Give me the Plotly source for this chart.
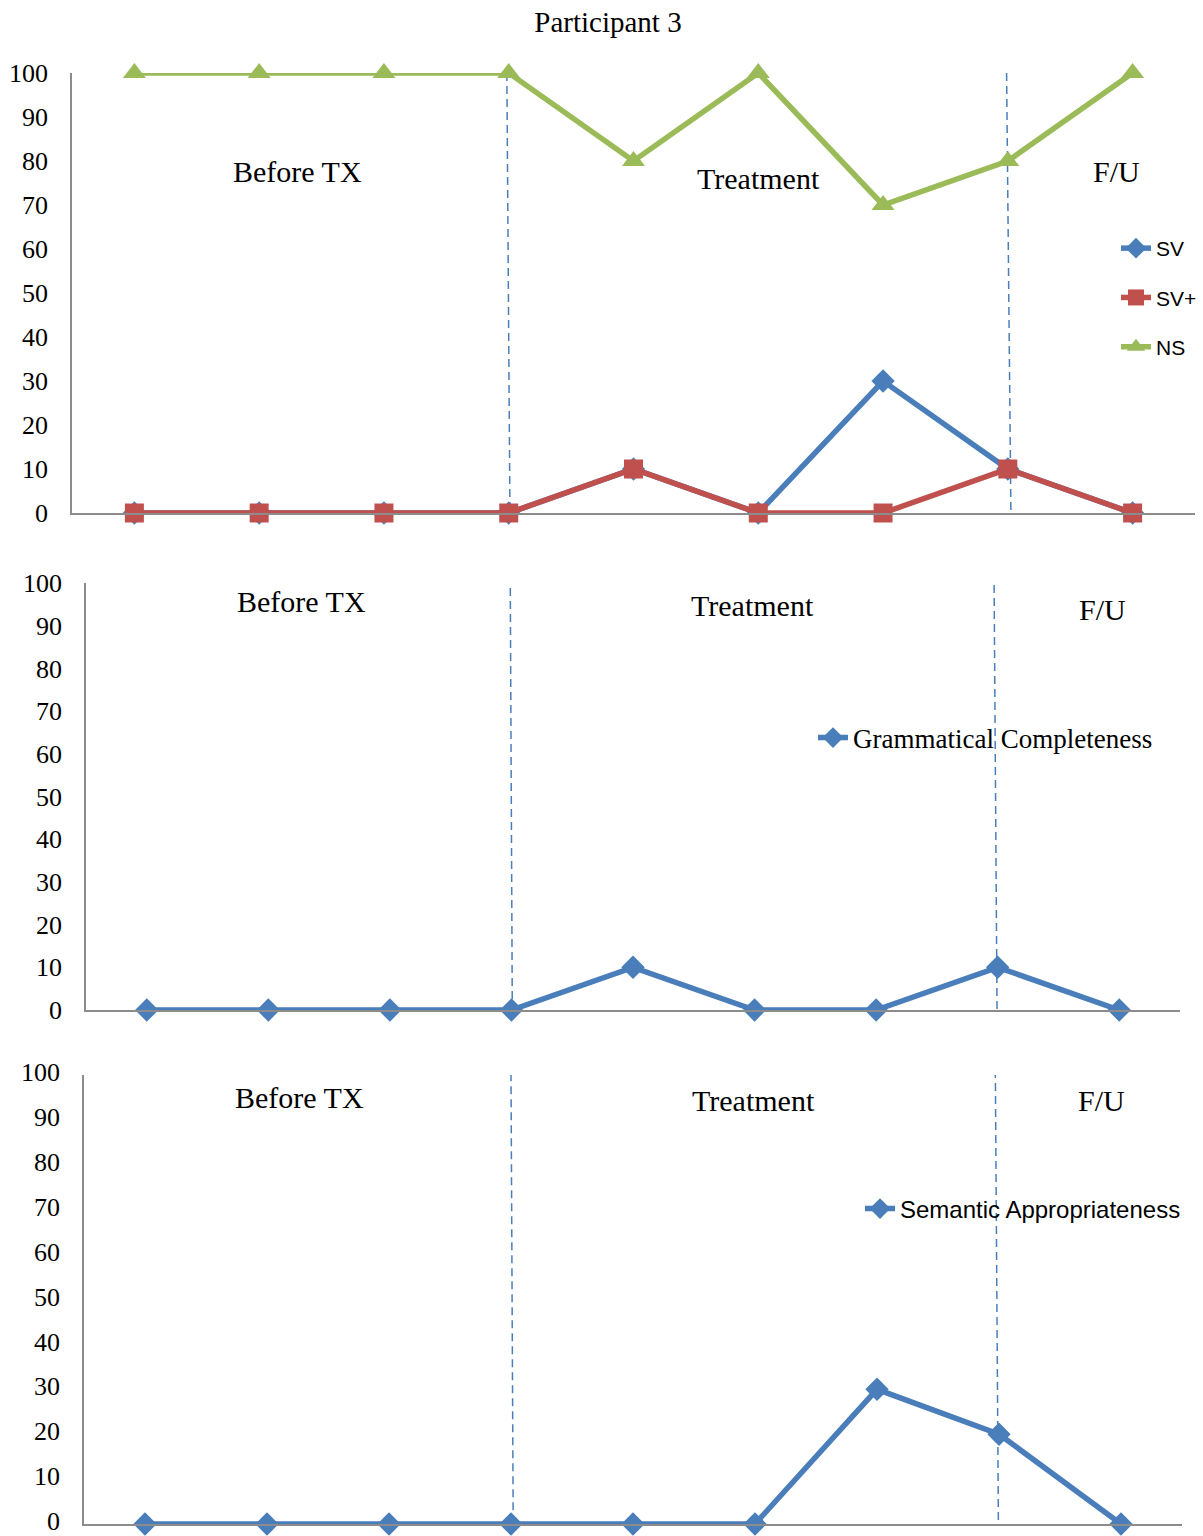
import plotly.graph_objects as go

# Probe sessions (9 measurement points)
sessions = ["1", "2", "3", "4", "5", "6", "7", "8", "9"]

# Panel 1: response types (%)
sv = [0, 0, 0, 0, 10, 0, 30, 10, 0]
sv_plus = [0, 0, 0, 0, 10, 0, 0, 10, 0]
ns = [100, 100, 100, 100, 80, 100, 70, 80, 100]

# Panel 2 and 3 (%)
grammatical = [0, 0, 0, 0, 10, 0, 0, 10, 0]
semantic = [0, 0, 0, 0, 0, 0, 30, 20, 0]

y_ticks = [0, 10, 20, 30, 40, 50, 60, 70, 80, 90, 100]
phase_labels = ["Before TX", "Treatment", "F/U"]

BLUE = "#4A7EBB"
RED = "#C0504D"
GREEN = "#9BBB59"
AXIS_GREY = "#8C8C8C"

W, H = 1203, 1536


def xdom(left, right):
    return [left / W, right / W]


def ydom(top, bottom):
    return [1 - bottom / H, 1 - top / H]


fig = go.Figure()

idx = list(range(len(sessions)))
LW = 5.5

# ---- panel 1
fig.add_trace(go.Scatter(x=idx, y=sv, name="SV", mode="lines+markers",
                         line=dict(color=BLUE, width=LW),
                         marker=dict(symbol="diamond", size=18, color=BLUE),
                         xaxis="x", yaxis="y", legend="legend", legendgroup="a",
                         cliponaxis=False))
fig.add_trace(go.Scatter(x=idx, y=sv_plus, name="SV+", mode="lines+markers",
                         line=dict(color=RED, width=LW),
                         marker=dict(symbol="square", size=19, color=RED),
                         xaxis="x", yaxis="y", legend="legend", legendgroup="b",
                         cliponaxis=False))
fig.add_trace(go.Scatter(x=idx, y=ns, name="NS", mode="lines+markers",
                         line=dict(color=GREEN, width=LW),
                         marker=dict(symbol="triangle-up", size=20, color=GREEN),
                         xaxis="x", yaxis="y", legend="legend", legendgroup="c",
                         cliponaxis=False))

# ---- panel 2
fig.add_trace(go.Scatter(x=idx, y=grammatical, name="Grammatical Completeness",
                         mode="lines+markers",
                         line=dict(color=BLUE, width=LW),
                         marker=dict(symbol="diamond", size=18, color=BLUE),
                         xaxis="x2", yaxis="y2", legend="legend2",
                         cliponaxis=False))

# ---- panel 3
fig.add_trace(go.Scatter(x=idx, y=semantic, name="Semantic Appropriateness",
                         mode="lines+markers",
                         line=dict(color=BLUE, width=LW),
                         marker=dict(symbol="diamond", size=18, color=BLUE),
                         xaxis="x3", yaxis="y3", legend="legend3",
                         cliponaxis=False))

tick_font = dict(family="Liberation Serif, Times New Roman, serif", size=26, color="#000")


def x_axis(dom, anchor):
    return dict(domain=dom, anchor=anchor, range=[-0.5, 8.5], showticklabels=False,
                showgrid=False, zeroline=False, showline=True, linecolor=AXIS_GREY,
                linewidth=1.5, ticks="", fixedrange=True, automargin=False)


def y_axis(dom, anchor, shift=0):
    return dict(domain=dom, anchor=anchor, range=[0, 100], tickvals=y_ticks,
                showgrid=False, zeroline=False, showline=True, linecolor=AXIS_GREY,
                linewidth=1.5, ticks="", ticklabelstandoff=17, tickfont=tick_font,
                ticklabelshift=shift, ticklabeloverflow="allow", fixedrange=True,
                automargin=False)


fig.update_layout(
    width=W, height=H,
    margin=dict(l=0, r=0, t=0, b=0, autoexpand=False),
    paper_bgcolor="white", plot_bgcolor="white",
    title=dict(text="Participant 3", x=608 / W, y=1 - 22 / H,
               xanchor="center", yanchor="middle", automargin=False,
               font=dict(family="Liberation Serif, Times New Roman, serif", size=29,
                         color="#000")),
    xaxis=x_axis(xdom(72, 1195), "y"),
    yaxis=y_axis(ydom(73, 513), "x"),
    xaxis2=x_axis(xdom(86, 1180), "y2"),
    yaxis2=y_axis(ydom(583, 1010), "x2"),
    xaxis3=x_axis(xdom(84, 1182), "y3"),
    yaxis3=y_axis(ydom(1075, 1524), "x3", shift=-3),
    legend=dict(x=1116 / W, y=1 - 228 / H, xanchor="left", yanchor="top",
                bgcolor="rgba(0,0,0,0)", tracegroupgap=19,
                font=dict(family="Liberation Sans, Arial, sans-serif", size=21,
                          color="#000")),
    legend2=dict(x=813 / W, y=1 - 738 / H, xanchor="left", yanchor="middle",
                 bgcolor="rgba(0,0,0,0)",
                 font=dict(family="Liberation Serif, Times New Roman, serif", size=27,
                           color="#000")),
    legend3=dict(x=860 / W, y=1 - 1209 / H, xanchor="left", yanchor="middle",
                 bgcolor="rgba(0,0,0,0)",
                 font=dict(family="Liberation Sans, Arial, sans-serif", size=24,
                           color="#000")),
    showlegend=True,
)

# Phase boundaries (dashed, hand-drawn look)
dash_style = dict(color=BLUE, width=1.5, dash="8px,5px")
boundaries = [
    ("x", "y", 2.985, 100, 3.01, -0.9),
    ("x", "y", 6.99, 100, 7.025, -0.9),
    ("x2", "y2", 2.99, 101.9, 3.007, 0),
    ("x2", "y2", 6.97, 102.6, 6.995, -0.5),
    ("x3", "y3", 3.0, 100.4, 3.018, 0),
    ("x3", "y3", 6.97, 101.1, 6.995, 0),
]
for xr, yr, x0, y0, x1, y1 in boundaries:
    fig.add_shape(type="line", xref=xr, yref=yr, x0=x0, y0=y0, x1=x1, y1=y1,
                  line=dash_style, layer="below")

# Phase labels
ann_font = dict(family="Liberation Serif, Times New Roman, serif", size=30, color="#000")
phase_pos = [
    ("x", "y", [(1.31, 77.5), (5.0, 76.0), (7.87, 77.7)]),
    ("x2", "y2", [(1.27, 95.6), (4.98, 94.8), (7.86, 93.7)]),
    ("x3", "y3", [(1.27, 94.9), (4.99, 94.4), (7.84, 94.4)]),
]
for xr, yr, pts in phase_pos:
    for label, (px, py) in zip(phase_labels, pts):
        fig.add_annotation(x=px, y=py, xref=xr, yref=yr, text=label, showarrow=False,
                           font=ann_font, xanchor="center", yanchor="middle")

fig.write_html("out.html")
